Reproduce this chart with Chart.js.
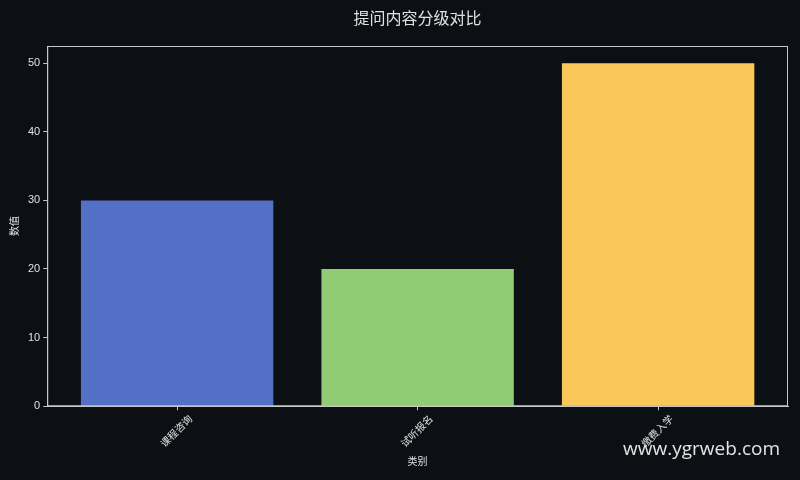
<!DOCTYPE html>
<html>
<head>
<meta charset="utf-8">
<script src="https://cdn.jsdelivr.net/npm/chart.js@4"></script>
<style>
  html, body { margin: 0; padding: 0; background: #0c0f14; }
  #wrap { position: relative; width: 800px; height: 480px; }
  #mark { position: absolute; right: 20px; top: 435px; line-height: 26px; color: #e4e4e4; font: 19px "Open Sans", sans-serif; }
</style>
</head>
<body>
<div id="wrap">
  <canvas id="chart" width="800" height="480"></canvas>
  <div id="mark">www.ygrweb.com</div>
</div>
<script>
// 数据
var chartTitle = '提问内容分级对比';
var categories = ['课程咨询', '试听报名', '缴费入学'];
var values = [30, 20, 50];
var barColors = ['#5470c6', '#91cc75', '#fac858'];
var yTicks = [0, 10, 20, 30, 40, 50];

var fontFam = '"Liberation Sans", "Noto Sans CJK SC", sans-serif';
var textColor = '#e0e0e0';
var axisColor = '#c8c8c8';

// 画四周边框 + 标题（居中于绘图区）
var frame = {
    id: 'frame',
    afterDraw: function(chart) {
        var a = chart.chartArea, c = chart.ctx;
        c.save();
        c.strokeStyle = axisColor;
        c.lineWidth = 1;
        c.strokeRect(a.left + 0.5, a.top + 0.5, a.right - a.left - 1, a.bottom - a.top - 1);
        c.fillStyle = textColor;
        c.font = '16px "Noto Sans CJK SC", sans-serif';
        c.textAlign = 'center';
        c.textBaseline = 'middle';
        c.fillText(chartTitle, (a.left + a.right) / 2, 18);
        c.restore();
    }
};

var ctx = document.getElementById('chart').getContext('2d');
new Chart(ctx, {
    type: 'bar',
    data: {
        datasets: [{
            data: categories.map(function(c, i) { return { x: i, y: values[i] }; }),
            backgroundColor: barColors,
            barPercentage: 0.8,
            categoryPercentage: 1
        }]
    },
    options: {
        responsive: false,
        animation: false,
        layout: { padding: { left: 5, right: 12, top: 46, bottom: 12 } },
        plugins: {
            legend: { display: false },
            tooltip: { enabled: false },
            title: { display: false }
        },
        scales: {
            x: {
                type: 'linear',
                offset: false,
                min: -0.54,
                max: 2.54,
                afterBuildTicks: function(scale) {
                    scale.ticks = categories.map(function(c, i) { return { value: i }; });
                },
                ticks: {
                    color: textColor,
                    font: { family: fontFam, size: 10 },
                    maxRotation: 45,
                    minRotation: 45,
                    labelOffset: 14,
                    callback: function(v) { return categories[v]; }
                },
                grid: { offset: false, drawOnChartArea: false, drawTicks: true, tickLength: 4, color: axisColor },
                border: { color: axisColor },
                title: { display: true, text: '类别', color: textColor, font: { family: fontFam, size: 10 }, padding: { top: 3, bottom: 0 } }
            },
            y: {
                min: 0,
                max: 52.5,
                afterBuildTicks: function(scale) {
                    scale.ticks = yTicks.map(function(v) { return { value: v }; });
                },
                ticks: { color: textColor, font: { family: fontFam, size: 11 } },
                grid: { drawOnChartArea: false, drawTicks: true, tickLength: 4, color: axisColor },
                border: { color: axisColor },
                title: { display: true, text: '数值', color: textColor, font: { family: fontFam, size: 10 } }
            }
        }
    },
    plugins: [frame]
});
</script>
</body>
</html>
